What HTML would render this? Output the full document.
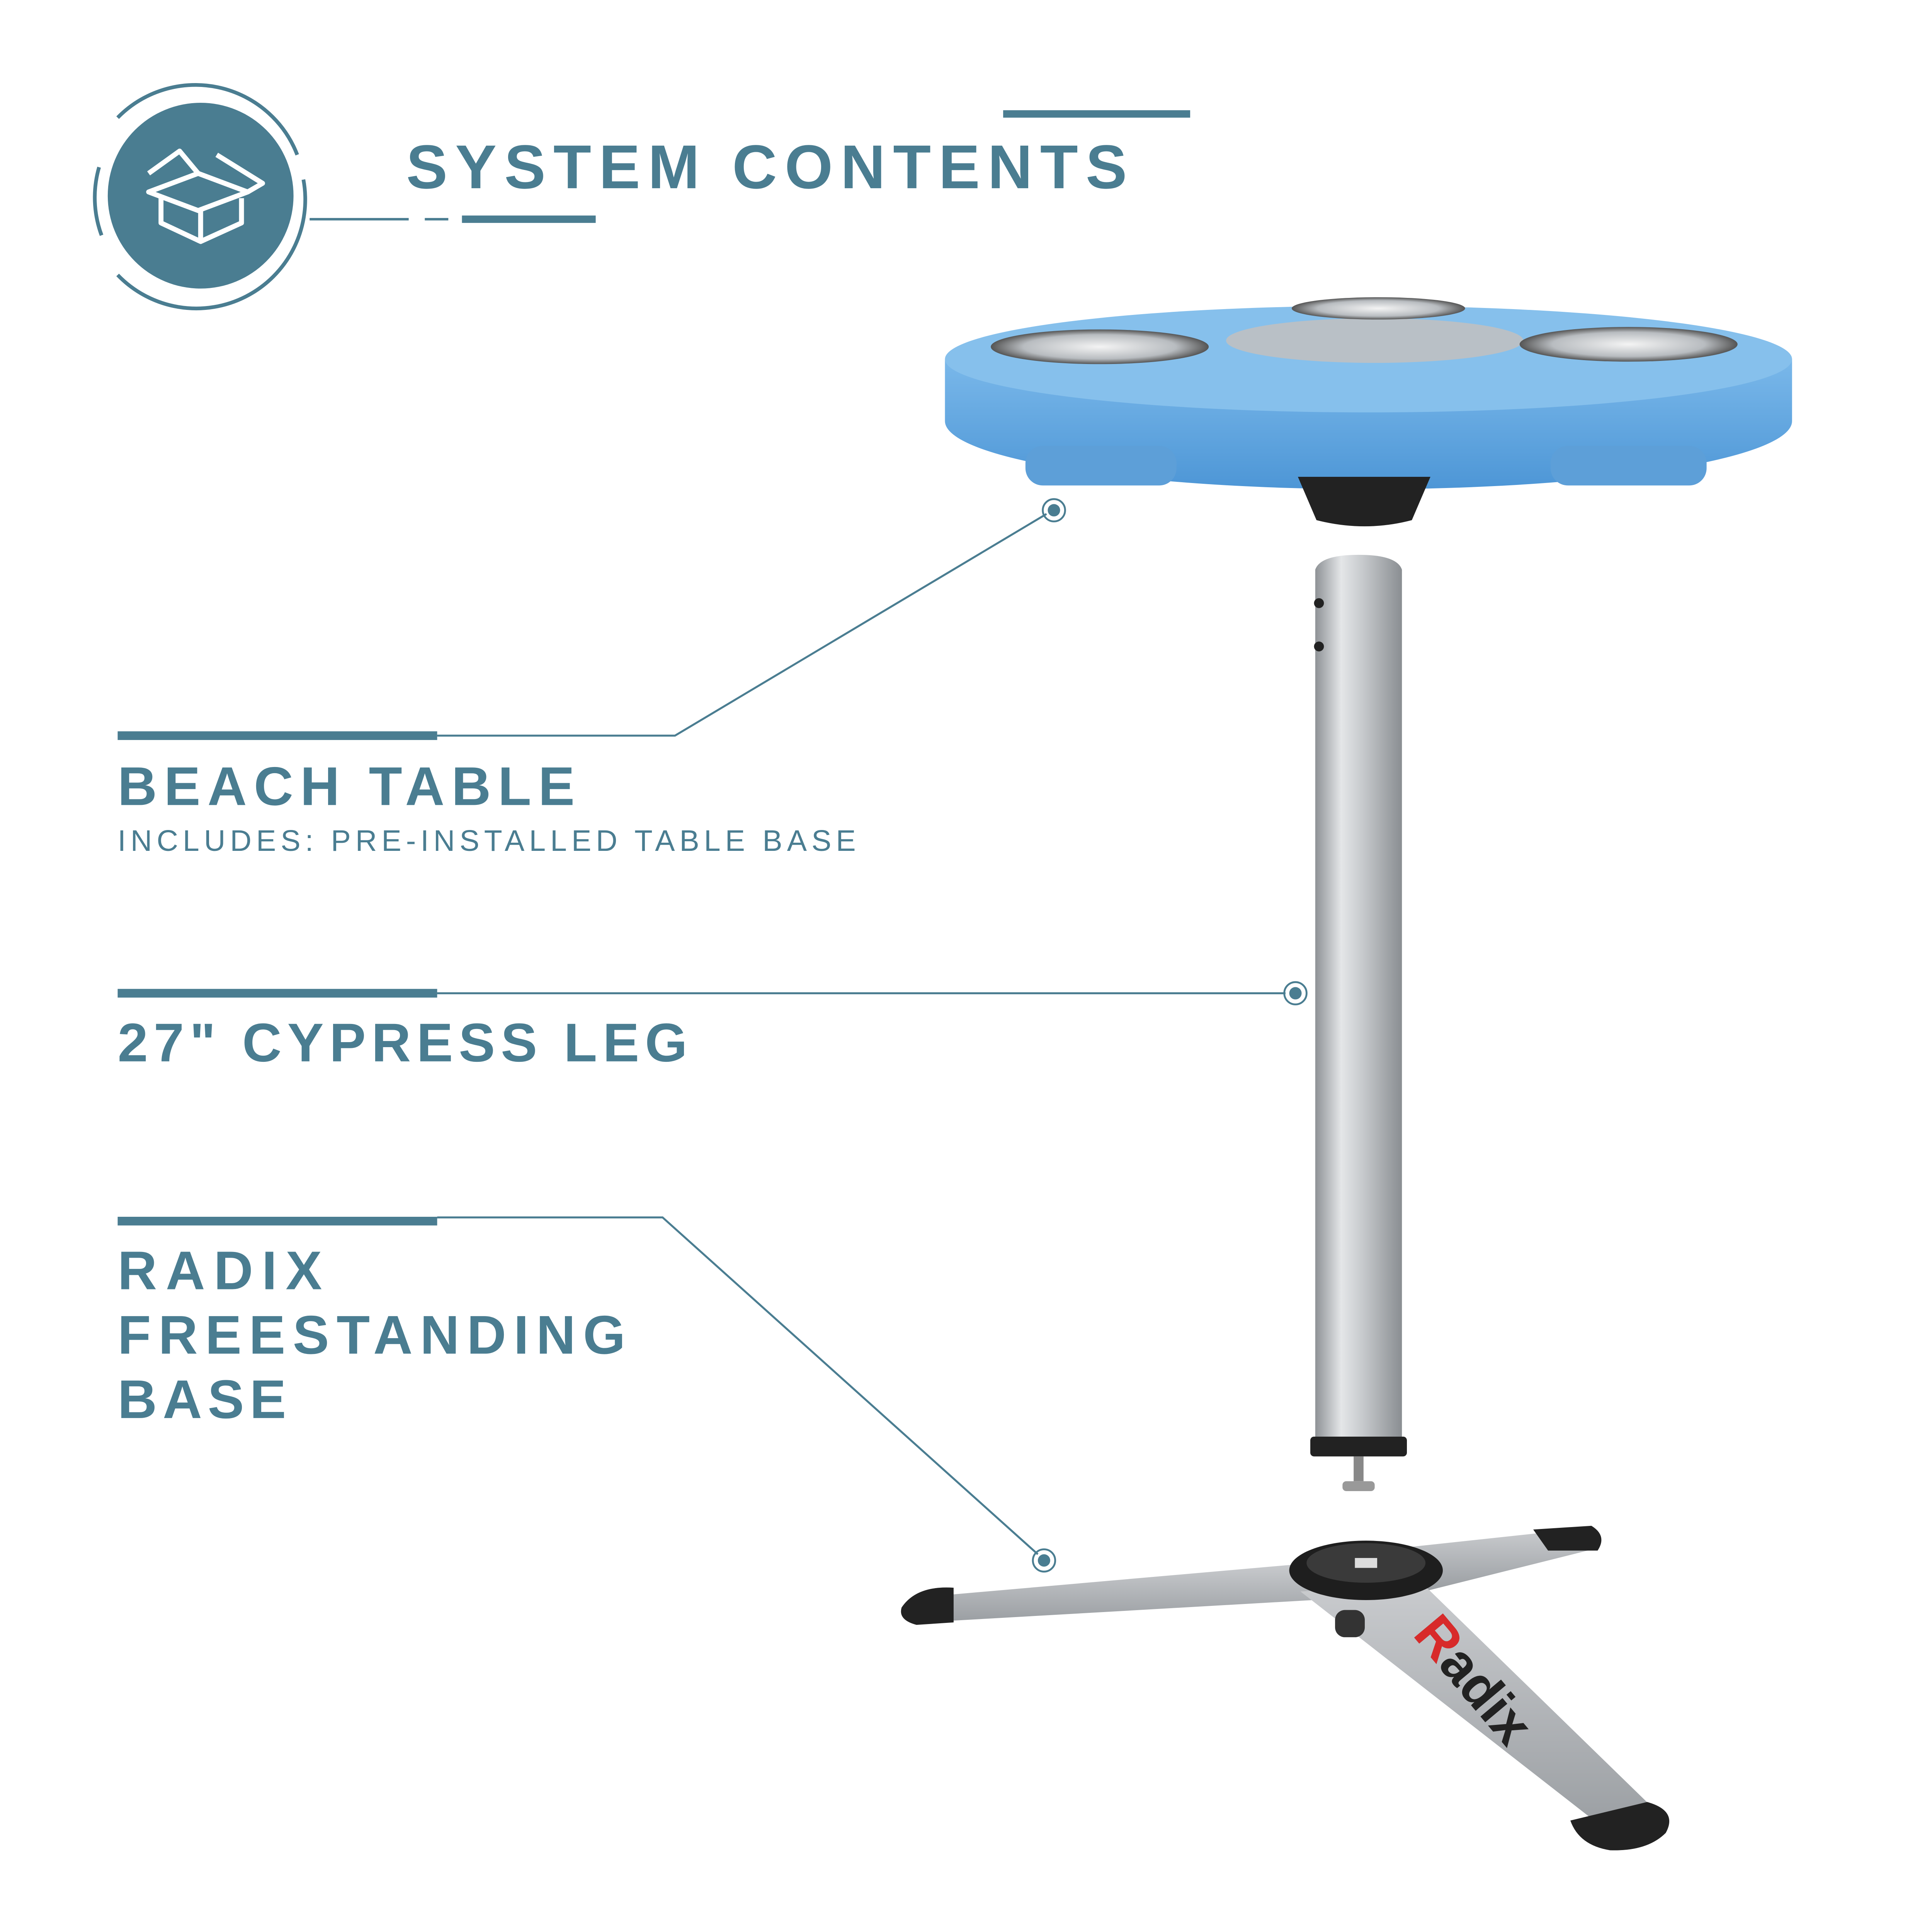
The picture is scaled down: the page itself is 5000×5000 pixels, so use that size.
<!DOCTYPE html>
<html><head><meta charset="utf-8"><style>
html,body{margin:0;padding:0;background:#fff;}
svg{display:block;width:5000px;height:5000px;}
text{font-family:"Liberation Sans","DejaVu Sans",sans-serif;fill:#4a7d91;}
</style></head><body>
<svg viewBox="0 0 1560 1560" xmlns="http://www.w3.org/2000/svg">
<defs>
<linearGradient id="leg" x1="0" x2="1">
<stop offset="0" stop-color="#8e9296"/><stop offset="0.3" stop-color="#e4e6e8"/><stop offset="0.55" stop-color="#c6c9cc"/><stop offset="1" stop-color="#8a8e92"/></linearGradient>
<linearGradient id="blue" x1="0" y1="0" x2="0" y2="1">
<stop offset="0" stop-color="#7ab8ea"/><stop offset="1" stop-color="#4d96d6"/></linearGradient>
<linearGradient id="arm" x1="0" y1="0" x2="0" y2="1">
<stop offset="0" stop-color="#c9cbce"/><stop offset="1" stop-color="#9a9ea2"/></linearGradient>
<radialGradient id="cup"><stop offset="0" stop-color="#f4f4f4"/><stop offset="0.7" stop-color="#b8bcc0"/><stop offset="1" stop-color="#555"/></radialGradient>
</defs>
<!-- icon -->
<circle cx="162" cy="158" r="75" fill="#4a7d91"/>
<path d="M 95 95 A 88 88 0 0 1 240 125" fill="none" stroke="#4a7d91" stroke-width="3"/>
<path d="M 245 145 A 88 88 0 0 1 95 222" fill="none" stroke="#4a7d91" stroke-width="3"/>
<path d="M 82 190 A 88 88 0 0 1 80 135" fill="none" stroke="#4a7d91" stroke-width="3"/>
<g fill="none" stroke="#fff" stroke-width="4" stroke-linejoin="round">
<path d="M120 155 L160 140 L200 155 L160 170 Z"/>
<path d="M130 160 L130 180 L162 195 L195 180 L195 160"/>
<path d="M162 170 L162 195"/>
<path d="M120 140 L145 122 L160 140"/>
<path d="M175 125 L212 148 L200 155"/>
</g>
<line x1="250" y1="177" x2="330" y2="177" stroke="#4a7d91" stroke-width="2"/>
<line x1="343" y1="177" x2="362" y2="177" stroke="#4a7d91" stroke-width="2"/>
<line x1="373" y1="177" x2="481" y2="177" stroke="#4a7d91" stroke-width="6"/>
<line x1="810" y1="92" x2="961" y2="92" stroke="#4a7d91" stroke-width="6"/>
<text x="328" y="152" font-size="50" font-weight="bold" letter-spacing="4" textLength="586">SYSTEM CONTENTS</text>

<!-- table -->
<path d="M763 290 L763 340 A342 55 0 0 0 1447 340 L1447 290 Z" fill="url(#blue)"/>
<ellipse cx="1105" cy="290" rx="342" ry="43" fill="#86c0ec"/>
<rect x="828" y="360" width="122" height="32" rx="14" fill="#5d9fd8"/>
<rect x="1252" y="360" width="126" height="32" rx="14" fill="#5d9fd8"/>
<path d="M1048 385 L1155 385 L1140 420 Q1102 430 1063 420 Z" fill="#222"/>
<ellipse cx="1110" cy="275" rx="120" ry="18" fill="#b9c0c6"/>
<ellipse cx="888" cy="280" rx="88" ry="14" fill="url(#cup)"/>
<ellipse cx="1315" cy="278" rx="88" ry="14" fill="url(#cup)"/>
<ellipse cx="1113" cy="249" rx="70" ry="9" fill="url(#cup)"/>

<!-- leg -->
<path d="M1062 460 Q1066 448 1097 448 Q1128 448 1132 460 L1132 1165 L1062 1165 Z" fill="url(#leg)"/>
<rect x="1058" y="1160" width="78" height="16" rx="3" fill="#222"/>
<rect x="1093" y="1176" width="8" height="20" fill="#888"/>
<rect x="1084" y="1196" width="26" height="8" rx="3" fill="#999"/>
<circle cx="1065" cy="487" r="4" fill="#222"/><circle cx="1065" cy="522" r="4" fill="#222"/>

<!-- base -->
<path d="M740 1290 L1060 1262 L1060 1292 L745 1310 Z" fill="url(#arm)"/>
<path d="M1130 1250 L1270 1235 L1290 1250 L1150 1285 Z" fill="url(#arm)"/>
<path d="M1050 1285 L1150 1280 L1340 1465 L1300 1480 Z" fill="url(#arm)"/>
<path d="M728 1298 Q740 1280 770 1282 L770 1310 L740 1312 Q725 1308 728 1298 Z" fill="#222"/>
<path d="M1238 1235 L1285 1232 Q1298 1240 1290 1252 L1250 1252 Z" fill="#222"/>
<path d="M1268 1470 L1330 1455 Q1355 1462 1345 1480 Q1330 1495 1300 1494 Q1275 1490 1268 1470 Z" fill="#222"/>
<rect x="1078" y="1300" width="24" height="22" rx="8" fill="#333"/>
<ellipse cx="1103" cy="1268" rx="62" ry="24" fill="#1e1e1e"/>
<ellipse cx="1103" cy="1262" rx="48" ry="16" fill="#3a3a3a"/>
<rect x="1094" y="1258" width="18" height="8" fill="#ddd"/>
<text x="1140" y="1320" font-size="44" font-weight="bold" transform="rotate(50 1140 1320)" style="fill:#222">R<tspan style="fill:#222">adix</tspan></text>
<text x="1140" y="1320" font-size="44" font-weight="bold" transform="rotate(50 1140 1320)" style="fill:#d82a2a">R</text>

<!-- labels -->
<g stroke="#4a7d91" fill="none">
<line x1="95" y1="594" x2="353" y2="594" stroke-width="7"/>
<polyline points="353,594 545,594 845,415" stroke-width="1.6"/>
<line x1="95" y1="802" x2="353" y2="802" stroke-width="7"/>
<line x1="353" y1="802" x2="1038" y2="802" stroke-width="1.6"/>
<line x1="95" y1="986" x2="353" y2="986" stroke-width="7"/>
<polyline points="353,983 535,983 838,1255" stroke-width="1.6"/>
<circle cx="851" cy="412" r="9" stroke-width="1.5"/>
<circle cx="1046" cy="802" r="9" stroke-width="1.5"/>
<circle cx="843" cy="1260" r="9" stroke-width="1.5"/>
</g>
<g fill="#4a7d91"><circle cx="851" cy="412" r="5"/><circle cx="1046" cy="802" r="5"/><circle cx="843" cy="1260" r="5"/></g>
<text x="95" y="650" font-size="44" font-weight="bold" letter-spacing="3" textLength="372">BEACH TABLE</text>
<text x="95" y="687" font-size="24" letter-spacing="2" textLength="598">INCLUDES: PRE-INSTALLED TABLE BASE</text>
<text x="95" y="857" font-size="44" font-weight="bold" letter-spacing="3" textLength="463">27" CYPRESS LEG</text>
<text x="95" y="1041" font-size="44" font-weight="bold" letter-spacing="3" textLength="168">RADIX</text>
<text x="95" y="1093" font-size="44" font-weight="bold" letter-spacing="3" textLength="413">FREESTANDING</text>
<text x="95" y="1145" font-size="44" font-weight="bold" letter-spacing="3" textLength="139">BASE</text>
</svg>
</body></html>
